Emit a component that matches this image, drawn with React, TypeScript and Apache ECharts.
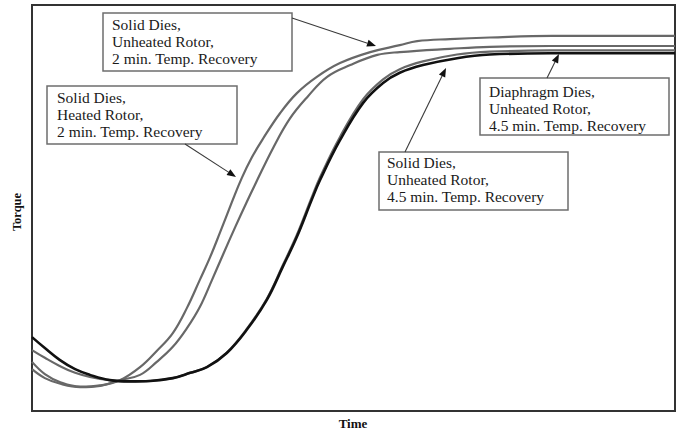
import React, { useEffect, useRef } from "react";
import * as echarts from "echarts";

// Torque vs Time (relative units, 0-100 on both axes)
const heated2Min: [number, number][] = [
  [0, 12.1], [2, 9.1], [4.4, 7.1], [7.5, 6.0], [10.6, 6.3], [13.7, 7.6], [16.8, 10.8],
  [19.4, 14.8], [21.9, 19.2], [24.1, 25.4], [26.1, 32.3], [27.7, 37.9], [29.2, 43.8],
  [31.1, 51.5], [32.6, 57.3], [34.2, 62.5], [35.9, 67], [38.6, 73.4], [41.2, 78.3],
  [44.3, 82.3], [47.9, 85.7], [52.6, 88.4], [57.2, 90.1], [59.9, 91.1], [65, 91.6],
  [71.2, 92], [80.9, 92.4], [100, 92.4],
];
const unheated2Min: [number, number][] = [
  [0, 10.3], [2, 8.1], [4.4, 6.7], [7.5, 5.9], [10.6, 6.2], [13.7, 7.6], [16.8, 8.9],
  [19.4, 12.1], [21.9, 15.8], [24.1, 20.4], [26.1, 25.6], [28, 32.3], [29.7, 38.5],
  [31.6, 45.3], [33.4, 51.5], [34.7, 55.8], [37.5, 64.8], [40.1, 72], [42.8, 77.3],
  [45.9, 82.3], [49.5, 85.2], [53.7, 87.7], [57.2, 88.4], [65, 89.2], [71.2, 89.7],
  [80.6, 89.9], [100, 89.9],
];
const unheated45Min: [number, number][] = [
  [0, 18.2], [2, 15.5], [4.3, 12.6], [6.7, 10.3], [9, 8.9], [12.1, 7.6], [15.2, 7.3],
  [18.4, 7.4], [21.9, 8.1], [24.6, 9.4], [27.2, 10.8], [30.3, 14.3], [33.4, 20],
  [36.5, 27.3], [39, 35.5], [41.2, 42.9], [43.5, 52], [44.8, 56.9], [47.9, 66.7],
  [51.5, 75.9], [54.6, 80.8], [57.2, 83.3], [60.8, 85.2], [66.1, 86.9], [71.2, 87.8],
  [80.6, 88.1], [100, 88.1],
];
const diaphragm45Min: [number, number][] = [
  [0, 15], [2, 13.1], [4.3, 11.1], [6.7, 9.4], [9, 8.4], [12.1, 7.6], [15.2, 7.3],
  [18.4, 7.4], [21.9, 8.1], [24.6, 9.4], [27.2, 10.8], [30.3, 14.4], [33.4, 20.2],
  [36.5, 27.6], [39, 35.9], [41.2, 43.4], [43.5, 52.6], [44.8, 57.6], [47.9, 67.5],
  [51.5, 76.8], [54.6, 81.7], [57.2, 84.2], [60.8, 86.1], [66.1, 87.8], [71.2, 88.5],
  [80.6, 88.8], [100, 88.8],
];

const labelUnheated2 = "Solid Dies,\nUnheated Rotor,\n2 min. Temp. Recovery";
const labelHeated2 = "Solid Dies,\nHeated Rotor,\n2 min. Temp. Recovery";
const labelDiaphragm = "Diaphragm Dies,\nUnheated Rotor,\n4.5 min. Temp. Recovery";
const labelUnheated45 = "Solid Dies,\nUnheated Rotor,\n4.5 min. Temp. Recovery";
const xAxisTitle = "Time";
const yAxisTitle = "Torque";

const FONT = '"Liberation Serif", "Times New Roman", serif';

function arrow(x1: number, y1: number, x2: number, y2: number) {
  const ang = Math.atan2(y2 - y1, x2 - x1);
  const len = 9;
  const half = 3.5;
  const bx = x2 - len * Math.cos(ang);
  const by = y2 - len * Math.sin(ang);
  const px = -Math.sin(ang) * half;
  const py = Math.cos(ang) * half;
  return [
    {
      type: "line",
      z: 110,
      shape: { x1, y1, x2: bx, y2: by },
      style: { stroke: "#3a3a3a", lineWidth: 1.1 },
    },
    {
      type: "polygon",
      z: 110,
      shape: { points: [[x2, y2], [bx + px, by + py], [bx - px, by - py]] },
      style: { fill: "#111" },
    },
  ];
}

function box(x: number, y: number, w: number, h: number, tx: number, ty: number, text: string) {
  return [
    {
      type: "rect",
      z: 100,
      shape: { x, y, width: w, height: h },
      style: { fill: "#fff", stroke: "#6e6e6e", lineWidth: 1.5 },
    },
    {
      type: "text",
      z: 101,
      x: tx,
      y: ty,
      style: {
        text,
        fill: "#1a1a1a",
        font: `15.5px ${FONT}`,
        lineHeight: 16.8,
        align: "left",
        verticalAlign: "top",
      },
    },
  ];
}

export default function App() {
  const ref = useRef<HTMLDivElement>(null);
  useEffect(() => {
    if (!ref.current) return;
    const chart = echarts.init(ref.current, undefined, { renderer: "svg" });
    const grey = { color: "#686868", width: 2.2 };
    const mk = (name: string, data: [number, number][], ls: any, z: number) => ({
      name,
      type: "line",
      data,
      smooth: 0.4,
      showSymbol: false,
      symbol: "none",
      lineStyle: ls,
      z,
    });
    chart.setOption({
      animation: false,
      backgroundColor: "#fff",
      grid: {
        left: 32,
        right: 9,
        top: 5,
        bottom: 19,
        show: true,
        borderColor: "#333",
        borderWidth: 2,
        backgroundColor: "transparent",
      },
      xAxis: {
        type: "value",
        min: 0,
        max: 100,
        axisLine: { show: false },
        axisTick: { show: false },
        axisLabel: { show: false },
        splitLine: { show: false },
      },
      yAxis: {
        type: "value",
        min: 0,
        max: 100,
        axisLine: { show: false },
        axisTick: { show: false },
        axisLabel: { show: false },
        splitLine: { show: false },
      },
      series: [
        mk("Diaphragm Dies, Unheated Rotor, 4.5 min", diaphragm45Min, grey, 2),
        mk("Solid Dies, Unheated Rotor, 2 min", unheated2Min, grey, 2),
        mk("Solid Dies, Heated Rotor, 2 min", heated2Min, grey, 2),
        mk("Solid Dies, Unheated Rotor, 4.5 min", unheated45Min, { color: "#111", width: 2.6 }, 3),
      ],
      graphic: [
        ...box(103, 13, 189, 58, 112, 16.5, labelUnheated2),
        ...box(47, 86, 190, 58, 57, 89.5, labelHeated2),
        ...box(480, 78, 189, 57, 489, 83.5, labelDiaphragm),
        ...box(379, 152, 189, 58, 387, 154.5, labelUnheated45),
        ...arrow(292, 18, 376, 46),
        ...arrow(185, 144, 236, 177),
        ...arrow(547, 78, 559, 54),
        ...arrow(405, 152, 446, 68),
        {
          type: "text",
          x: 17,
          y: 212,
          rotation: Math.PI / 2,
          style: {
            text: yAxisTitle,
            fill: "#111",
            font: `bold 12.5px ${FONT}`,
            align: "center",
            verticalAlign: "middle",
          },
        },
        {
          type: "text",
          x: 353,
          y: 423,
          style: {
            text: xAxisTitle,
            fill: "#111",
            font: `bold 13px ${FONT}`,
            align: "center",
            verticalAlign: "middle",
          },
        },
      ],
    });
    return () => chart.dispose();
  }, []);
  return (
    <div
      ref={ref}
      style={{ position: "fixed", left: 0, top: 0, width: 684, height: 430, background: "#fff" }}
    />
  );
}
